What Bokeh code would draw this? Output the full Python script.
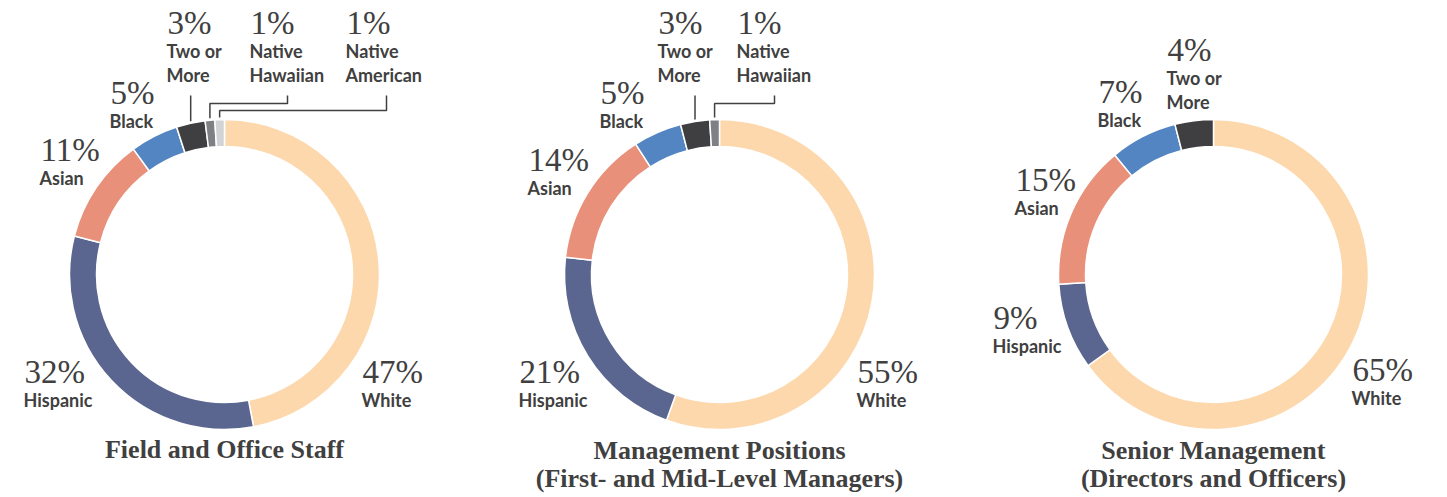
import numpy as np
from bokeh.plotting import figure
from bokeh.models import Range1d
from bokeh.embed import file_html
from bokeh.resources import INLINE
from bokeh.core.properties import value

W, H = 1447, 497

# ---------------- data ----------------
categories = ["White", "Hispanic", "Asian", "Black", "Two or More",
              "Native Hawaiian", "Native American"]
category_lines = [["White"], ["Hispanic"], ["Asian"], ["Black"], ["Two or", "More"],
                  ["Native", "Hawaiian"], ["Native", "American"]]
staff_values = [47, 32, 11, 5, 3, 1, 1]
management_values = [55, 21, 14, 5, 3, 1]
senior_values = [65, 9, 15, 7, 4]
chart_titles = [["Field and Office Staff"],
                ["Management Positions", "(First- and Mid-Level Managers)"],
                ["Senior Management", "(Directors and Officers)"]]

# ---------------- styles / layout ----------------
colors = ["#FDD8AC", "#5A668F", "#E8907A", "#5385C3", "#3F3F41", "#7F8083", "#D2D3D5"]
TEXT = "#404040"
centers_x = [224, 719, 1213]
center_y_px = 274
R_OUT, R_IN = 155, 128

# label anchor (left x, baseline y of the percentage) per chart / category, in pixels from top
label_pos = [
    [(362, 382), (24, 382), (40, 160), (110, 103), (167, 33), (250, 33), (346, 33)],
    [(857, 382), (519, 382), (528, 170), (600, 103), (658, 33), (737, 33)],
    [(1352, 380), (993, 328), (1015, 190), (1098, 102), (1167, 60)],
]
# leader lines: (category index, elbow y in px) for small slices
leaders = [
    [(4, None), (5, 103), (6, 110)],
    [(4, None), (5, 103)],
    [],
]
title_baselines = [[459], [460, 488], [460, 488]]

PCT_SHIFT = 11   # rendering offset corrections (px)
LAB_SHIFT = 6
TITLE_SHIFT = 10

def Y(py):
    return H - py

p = figure(width=W, height=H, x_range=Range1d(0, W), y_range=Range1d(0, H),
           output_backend="svg", toolbar_location=None, min_border=0)
p.axis.visible = False
p.grid.visible = False
p.outline_line_color = None
p.background_fill_color = "white"

for ci, vals in enumerate([staff_values, management_values, senior_values]):
    v = np.array(vals, dtype=float)
    frac = v / v.sum()
    cum = np.concatenate([[0], np.cumsum(frac)])
    starts = np.pi / 2 - 2 * np.pi * cum[:-1]
    ends = np.pi / 2 - 2 * np.pi * cum[1:]
    n = len(vals)
    cx = centers_x[ci]
    cy = Y(center_y_px)
    p.annular_wedge(x=[cx] * n, y=[cy] * n, inner_radius=R_IN, outer_radius=R_OUT,
                    start_angle=list(starts), end_angle=list(ends), direction="clock",
                    fill_color=colors[:n], line_color="white", line_width=1.5)

    # labels
    pct_x, pct_y, pct_t = [], [], []
    lab_x, lab_y, lab_t = [], [], []
    for k in range(n):
        lx, ly = label_pos[ci][k]
        pct_x.append(lx); pct_y.append(Y(ly - PCT_SHIFT)); pct_t.append(f"{vals[k]}%")
        for j, line in enumerate(category_lines[k]):
            lab_x.append(lx - 1); lab_y.append(Y(ly + 23 + 24 * j - LAB_SHIFT)); lab_t.append(line)
    p.text(x=pct_x, y=pct_y, text=pct_t, text_font=value("Liberation Serif"),
           text_font_size="33px", text_color=TEXT, text_baseline="alphabetic",
           text_align="left")
    p.text(x=lab_x, y=lab_y, text=lab_t, text_font=value("Lato"),
           text_font_style="bold", text_font_size="18px", text_color=TEXT,
           text_baseline="alphabetic", text_align="left")

    # leader lines
    for k, elbow in leaders[ci]:
        mid = (cum[k] + cum[k + 1]) / 2
        theta = 2 * np.pi * mid
        ex = cx + R_OUT * np.sin(theta)
        ey = cy + R_OUT * np.cos(theta) + 2
        lx, ly = label_pos[ci][k]
        top = Y(ly + 62)
        if k == 4:
            xs = [ex, ex]; ys = [top, ey]
        else:
            ax = lx + 37 if k == 5 else lx + 40
            xs = [ax, ax, ex, ex]; ys = [top, Y(elbow), Y(elbow), ey]
        p.line(xs, ys, line_color=TEXT, line_width=1.5)

    # title
    for j, t in enumerate(chart_titles[ci]):
        p.text(x=[cx], y=[Y(title_baselines[ci][j] - TITLE_SHIFT)], text=[t],
               text_font=value("Liberation Serif"), text_font_style="bold",
               text_font_size="26px", text_color=TEXT, text_baseline="alphabetic",
               text_align="center")

open("out.html", "w").write(file_html(p, INLINE))
